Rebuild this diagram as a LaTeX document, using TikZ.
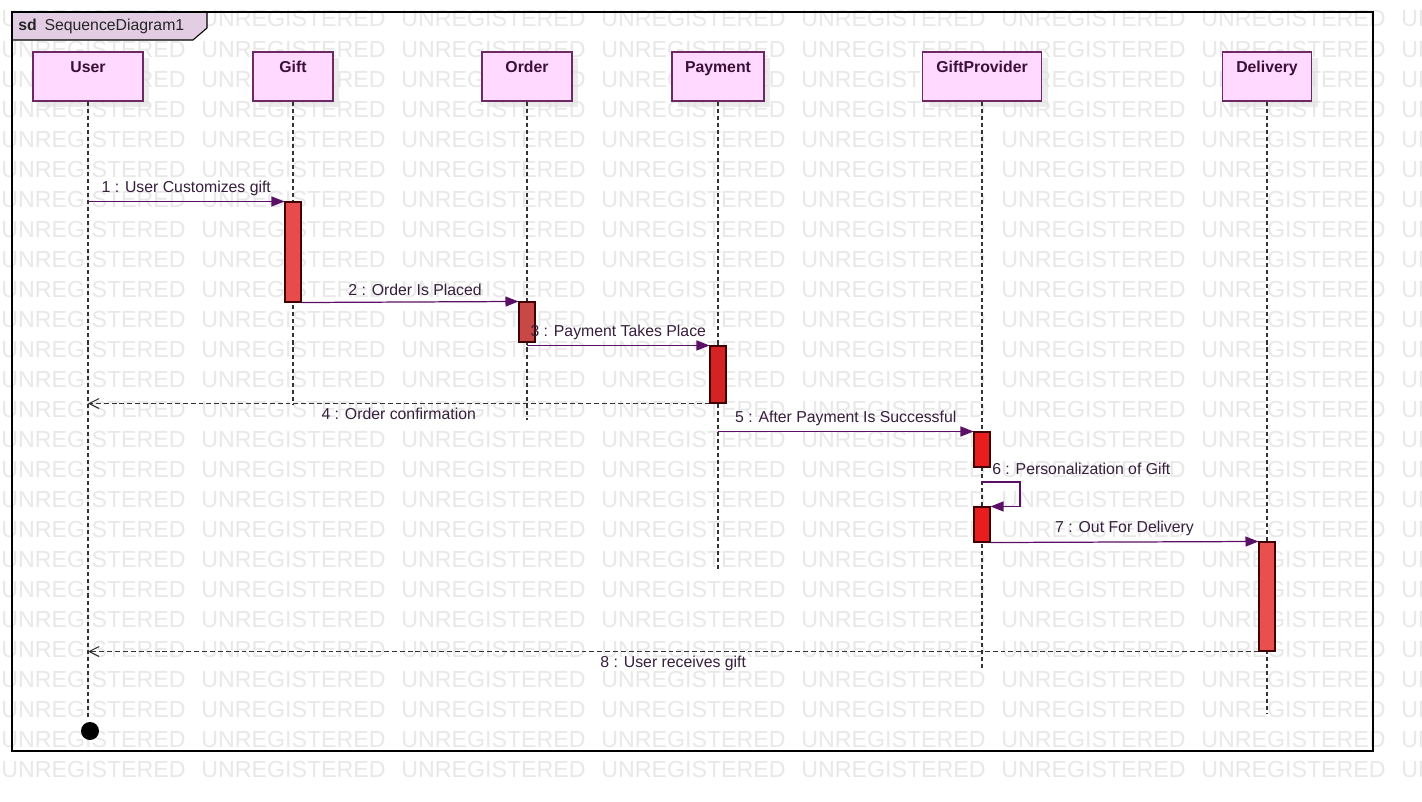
\documentclass[tikz,border=0pt]{standalone}
\usepackage{fontspec}
\setmainfont{Liberation Sans}
\usetikzlibrary{arrows.meta,positioning,shadows}
\definecolor{headfill}{RGB}{255,217,255}
\definecolor{headdraw}{RGB}{110,40,100}
\definecolor{headtext}{RGB}{60,15,55}
\definecolor{msgline}{RGB}{90,16,100}
\definecolor{lbltext}{RGB}{55,30,60}
\definecolor{tabfill}{RGB}{226,205,226}
\definecolor{actgift}{RGB}{232,75,75}
\definecolor{actorder}{RGB}{200,72,72}
\definecolor{actpay}{RGB}{212,35,35}
\definecolor{actgp}{RGB}{232,30,30}
\definecolor{actdel}{RGB}{232,80,80}
\tikzset{
  wm/.style={text=black!9, font=\fontsize{13.2}{14}\selectfont, anchor=base west, inner sep=0pt},
  head/.style={draw=headdraw, fill=headfill, minimum height=0.98cm, line width=0.6pt,
    drop shadow={shadow xshift=0.12cm, shadow yshift=-0.12cm, fill=black!12, opacity=0.6}},
  headtxt/.style={text=headtext, font=\fontsize{9}{11}\selectfont\bfseries, anchor=base, inner sep=0pt},
  act/.style={draw=black!75!red, minimum width=0.32cm, inner sep=0pt, line width=0.6pt},
  lifeline/.style={draw=black!80, dash pattern=on 2.3pt off 1.7pt, line width=0.6pt},
  msg/.style={draw=msgline, line width=0.7pt, -{Triangle[length=0.26cm,width=0.2cm]}},
  reply/.style={draw=black!80, line width=0.6pt, dash pattern=on 2.8pt off 1.7pt,
    -{Straight Barb[length=0.2cm,width=0.2cm]}},
  lbl/.style={text=lbltext, font=\fontsize{9}{11}\selectfont, inner sep=1pt},
  tabtxt/.style={text=black!85, font=\fontsize{9}{11}\selectfont, inner sep=0pt}
}
\begin{document}
\begin{tikzpicture}[x=0.02cm,y=-0.02cm]
\useasboundingbox (0,0) rectangle (1422,801);
\clip (0,0) rectangle (1422,801);
\fill[white] (0,0) rectangle (1422,801);

\foreach \r in {0,...,25}
  \foreach \c in {0,...,7}
    \node[wm] (wm-\r-\c) at (\c*200+1,\r*30+27) {UNREGISTERED};

\draw[fill=tabfill, line width=0.6pt] (12,12) -- (207,12) -- (207,28) -- (193,40) -- (12,40) -- cycle;
\draw[line width=0.8pt] (12,12) rectangle (1373,751);
\node[tabtxt, font=\fontsize{9}{11}\selectfont\bfseries, anchor=base west] (sd) at (18,31) {sd};
\node[tabtxt, base right=0.14cm of sd] (sd-name) {SequenceDiagram1};

\node[head, minimum width=2.2cm] (user) at (88,76.5) {};
\node[head, minimum width=1.6cm] (gift) at (293,76.5) {};
\node[head, minimum width=1.8cm] (order) at (527,76.5) {};
\node[head, minimum width=1.84cm] (pay) at (718,76.5) {};
\node[head, minimum width=2.38cm] (gp) at (982,76.5) {};
\node[head, minimum width=1.78cm] (del) at (1267,76.5) {};
\node[headtxt] (user-t) at ([yshift=-0.42cm]user.north) {User};
\node[headtxt] (gift-t) at ([yshift=-0.42cm]gift.north) {Gift};
\node[headtxt] (order-t) at ([yshift=-0.42cm]order.north) {Order};
\node[headtxt] (pay-t) at ([yshift=-0.42cm]pay.north) {Payment};
\node[headtxt] (gp-t) at ([yshift=-0.42cm]gp.north) {GiftProvider};
\node[headtxt] (del-t) at ([yshift=-0.42cm]del.north) {Delivery};

\node[circle, fill=black, minimum size=0.36cm, inner sep=0pt] (user-stop) at (90,731) {};
\coordinate (gift-end) at (293,405);
\coordinate (order-end) at (527,420);
\coordinate (pay-end) at (718,572);
\coordinate (gp-end) at (982,668);
\coordinate (del-end) at (1267,714);

\draw[lifeline] (user.south) -- ([yshift=0.1cm]user.south |- user-stop.north);
\draw[lifeline] (gift.south) -- (gift-end);
\draw[lifeline] (order.south) -- (order-end);
\draw[lifeline] (pay.south) -- (pay-end);
\draw[lifeline] (gp.south) -- (gp-end);
\draw[lifeline] (del.south) -- (del-end);

\node[act, fill=actgift, minimum height=2cm] (gift-a) at (293,252) {};
\node[act, fill=actorder, minimum height=0.8cm] (order-a) at (527,322) {};
\node[act, fill=actpay, minimum height=1.14cm] (pay-a) at (718,374.5) {};
\node[act, fill=actgp, minimum height=0.7cm] (gp-a1) at (982,449.5) {};
\node[act, fill=actgp, minimum height=0.7cm] (gp-a2) at (982,524.5) {};
\node[act, fill=actdel, minimum height=2.18cm] (del-a) at (1267,596.5) {};
\coordinate (self) at (1020,482);

\draw[msg] (user |- gift-a.north west) -- (gift-a.north west)
  node[lbl, midway, above=2pt] (m1) {1 : User Customizes gift};
\draw[msg] (gift-a.south east) -- (order-a.north west)
  node[lbl, midway, above=2pt, xshift=0.1cm] (m2) {2 : Order Is Placed};
\draw[msg] (order |- pay-a.north west) -- (pay-a.north west)
  node[lbl, midway, above=2pt] (m3) {3 : Payment Takes Place};
\draw[reply] (pay-a.south west) -- (user |- pay-a.south west)
  node[lbl, midway, below=1.5pt] (m4) {4 : Order confirmation};
\draw[msg] (pay |- gp-a1.north west) -- (gp-a1.north west)
  node[lbl, midway, above=2pt] (m5) {5 : After Payment Is Successful};
\draw[msg] (gp |- self) node[lbl, above right=3pt and 4.5pt] (m6) {6 : Personalization of Gift}
  -- (self) |- (gp-a2.north east);
\draw[msg] (gp-a2.south east) -- (del-a.north west)
  node[lbl, midway, above=2pt] (m7) {7 : Out For Delivery};
\draw[reply] (del-a.south west) -- (user |- del-a.south west)
  node[lbl, midway, below=1.5pt] (m8) {8 : User receives gift};
\end{tikzpicture}
\end{document}
